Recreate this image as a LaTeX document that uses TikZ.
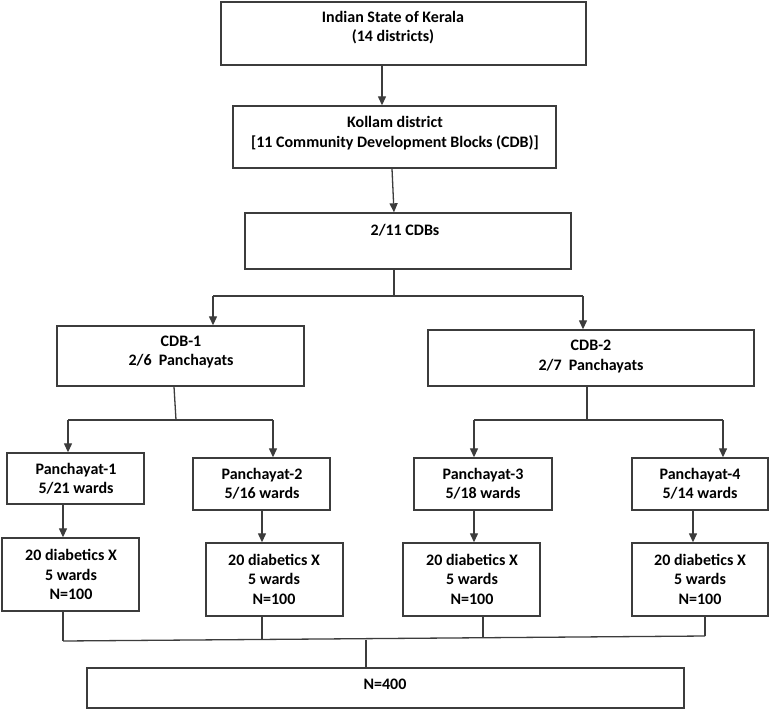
\documentclass[tikz,border=0pt]{standalone}
\usepackage{fontspec}
\setmainfont{Carlito}
\usetikzlibrary{arrows.meta}
\definecolor{linec}{HTML}{3C3C3C}
\tikzset{
  box/.style={draw=linec, line width=1.4pt, rectangle, inner sep=0pt},
  txt/.style={align=center, font=\fontsize{16}{19.5}\selectfont\bfseries, inner sep=0pt},
  arr/.style={draw=linec, line width=1.3pt, -{Triangle[length=9pt,width=8pt]}},
  ln/.style={draw=linec, line width=1.3pt}
}
\begin{document}
\begin{tikzpicture}[x=1pt,y=-1pt]
\useasboundingbox[fill=white] (0,0) rectangle (771,710);
% boxes
\node[box, minimum width=365pt, minimum height=63pt] (b1) at (403.5,33.5) {};
\node[box, minimum width=323pt, minimum height=62pt] (b2) at (394.5,137) {};
\node[box, minimum width=326pt, minimum height=56pt] (b3) at (408,241) {};
\node[box, minimum width=247pt, minimum height=60pt] (c1) at (180.5,356) {};
\node[box, minimum width=326pt, minimum height=56pt] (c2) at (591,358) {};
\node[box, minimum width=137pt, minimum height=51pt] (p1) at (75.5,478.5) {};
\node[box, minimum width=137pt, minimum height=52pt] (p2) at (261.5,484) {};
\node[box, minimum width=138pt, minimum height=52pt] (p3) at (483,484) {};
\node[box, minimum width=136pt, minimum height=52pt] (p4) at (700,484) {};
\node[box, minimum width=137pt, minimum height=73pt] (d1) at (70.5,574.5) {};
\node[box, minimum width=137pt, minimum height=73pt] (d2) at (274.5,579.5) {};
\node[box, minimum width=137pt, minimum height=73pt] (d3) at (471.5,579.5) {};
\node[box, minimum width=136pt, minimum height=73pt] (d4) at (700,579.5) {};
\node[box, minimum width=597pt, minimum height=40pt] (nn) at (385.5,688) {};
% texts
\node[txt] (t1) at (393,27.5) {Indian State of Kerala\\(14 districts)};
\node[txt] (t2) at (395,133) {Kollam district\\{}[11 Community Development Blocks (CDB)]};
\node[txt] (t3) at (405,230) {2/11 CDBs};
\node[txt] (tc1) at (181,352) {CDB-1\\2/6\ \ Panchayats};
\node[txt] (tc2) at (591,356.5) {CDB-2\\2/7\ \ Panchayats};
\node[txt] (tp1) at (76,478.5) {Panchayat-1\\5/21 wards};
\node[txt] (tp2) at (262,483.5) {Panchayat-2\\5/16 wards};
\node[txt] (tp3) at (483,483.5) {Panchayat-3\\5/18 wards};
\node[txt] (tp4) at (700,483.5) {Panchayat-4\\5/14 wards};
\node[txt] (td1) at (71,574.5) {20 diabetics X\\5 wards\\N=100};
\node[txt] (td2) at (274,579) {20 diabetics X\\5 wards\\N=100};
\node[txt] (td3) at (472,579) {20 diabetics X\\5 wards\\N=100};
\node[txt] (td4) at (700,579) {20 diabetics X\\5 wards\\N=100};
\node[txt] (tn) at (385,684) {N=400};
% junction coordinates
\coordinate (j3) at (394,296);
\coordinate (j3l) at (213,296);
\coordinate (j3r) at (583,296);
\coordinate (jc1) at (176,420);
\coordinate (jc1l) at (68,420);
\coordinate (jc1r) at (273,420);
\coordinate (jc2) at (587,420);
\coordinate (jc2l) at (474,420);
\coordinate (jc2r) at (723,420);
\coordinate (e1) at (63,641);
\coordinate (e2) at (262,640);
\coordinate (e3) at (483,638);
\coordinate (e4) at (705,636);
\coordinate (en) at (366,640);
% connectors
\draw[arr] ([xshift=-21.5pt]b1.south) -- ([xshift=-12.5pt]b2.north);
\draw[arr] ([xshift=-2.5pt]b2.south) -- ([xshift=-14pt]b3.north);
\draw[ln] (b3.south -| j3) -- (j3);
\draw[ln] (j3l) -- (j3r);
\draw[arr] (j3l) -- (c1.north -| j3l);
\draw[arr] (j3r) -- (c2.north -| j3r);
\draw[ln] ([xshift=-6.5pt]c1.south) -- (jc1);
\draw[ln] (jc1l) -- (jc1r);
\draw[arr] (jc1l) -- (p1.north -| jc1l);
\draw[arr] (jc1r) -- (p2.north -| jc1r);
\draw[ln] (c2.south -| jc2) -- (jc2);
\draw[ln] (jc2l) -- (jc2r);
\draw[arr] (jc2l) -- (p3.north -| jc2l);
\draw[arr] (jc2r) -- (p4.north -| jc2r);
\draw[arr] (p1.south -| e1) -- (d1.north -| e1);
\draw[arr] (p2.south -| e2) -- (d2.north -| e2);
\draw[arr] (p3.south -| jc2l) -- (d3.north -| jc2l);
\draw[arr] ([xshift=-7pt]p4.south) -- ([xshift=-7pt]d4.north);
\draw[ln] (d1.south -| e1) -- (e1);
\draw[ln] (d2.south -| e2) -- (e2);
\draw[ln] (d3.south -| e3) -- (e3);
\draw[ln] (d4.south -| e4) -- (e4);
\draw[ln] (e1) -- (e4);
\draw[ln] (en) -- (nn.north -| en);
\end{tikzpicture}
\end{document}
